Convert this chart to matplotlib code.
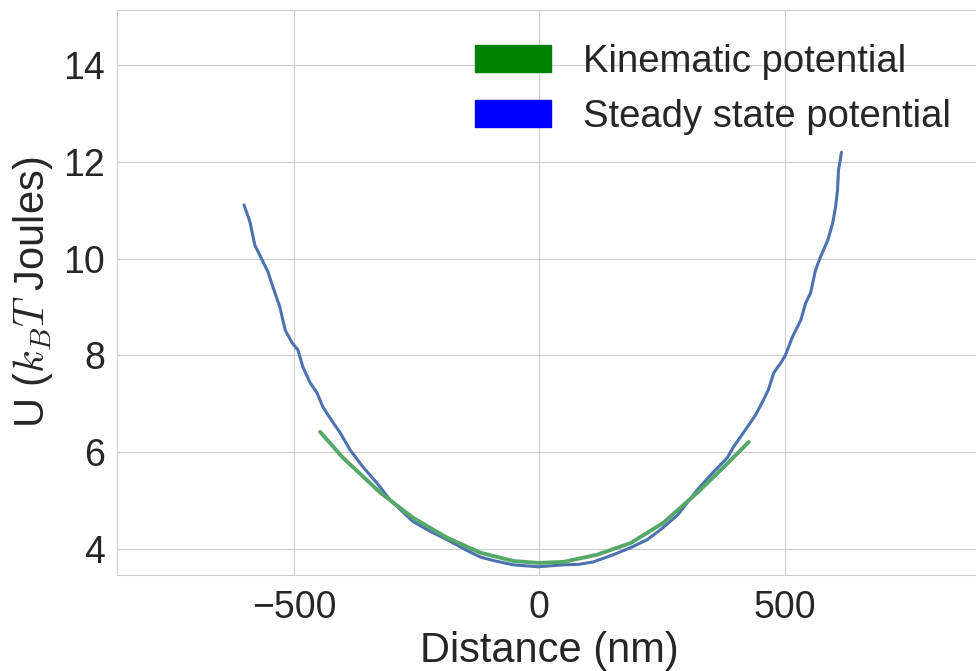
import numpy as np
import matplotlib
matplotlib.use("Agg")
import matplotlib.pyplot as plt
import matplotlib.patches as mpatches
import seaborn as sns

# steady state potential
steady_x = [-602, -590, -580, -565, -553, -543, -529, -518, -504, -492, -482, -467,
            -453, -441, -427, -406, -386, -360, -331, -304, -257, -220, -188, -150,
            -120, -90, -53, -2, 49, 80, 110, 151, 185, 220, 250, 282, 322, 355, 383,
            396, 416, 441, 455, 467, 478, 492, 502, 516, 533, 543, 553, 563, 573,
            588, 598, 604, 608, 610, 616]
steady_u = [11.11, 10.76, 10.28, 9.97, 9.72, 9.41, 9.00, 8.52, 8.26, 8.11, 7.76, 7.43,
            7.22, 6.93, 6.71, 6.40, 6.05, 5.70, 5.36, 5.01, 4.56, 4.35, 4.19, 3.98,
            3.83, 3.75, 3.67, 3.63, 3.67, 3.68, 3.73, 3.88, 4.02, 4.19, 4.42, 4.70,
            5.22, 5.59, 5.88, 6.11, 6.40, 6.77, 7.04, 7.29, 7.64, 7.84, 8.01, 8.38,
            8.73, 9.08, 9.29, 9.76, 10.03, 10.38, 10.73, 11.07, 11.42, 11.83, 12.20]

# kinematic potential
kin_x = [-447, -400, -324, -257, -188, -120, -53, -2, 49, 118, 186, 253, 322, 376, 427]
kin_u = [6.42, 5.88, 5.16, 4.64, 4.23, 3.92, 3.75, 3.71, 3.73, 3.88, 4.12, 4.54, 5.16, 5.69, 6.21]

sns.set_style("whitegrid")
plt.rcParams['font.family'] = ['Liberation Sans', 'DejaVu Sans']
plt.rcParams['mathtext.fontset'] = 'cm'

fig = plt.figure(figsize=(9.76, 6.71), dpi=100)
ax = fig.add_axes([117 / 976, 1 - 575 / 671, 0.885, 565 / 671])

ax.plot(steady_x, steady_u, color="#4c72b0", lw=2.2)
ax.plot(kin_x, kin_u, color="#55a868", lw=2.8)

ax.set_xlim(-861, 900)
ax.set_ylim(3.46, 15.14)
ax.set_xticks([-500, 0, 500])
ax.set_yticks([4, 6, 8, 10, 12, 14])
ax.tick_params(labelsize=27, colors=".15")
ax.tick_params(axis="x", pad=7)
ax.tick_params(axis="y", pad=5)
ax.set_xlabel("Distance (nm)", fontsize=30, color=".15", labelpad=4)
ax.set_ylabel("U ($k_BT$ Joules)", fontsize=30, color=".15", labelpad=6)

handles = [mpatches.Patch(color="green", label="Kinematic potential"),
           mpatches.Patch(color="blue", label="Steady state potential")]
fig.legend(handles=handles, loc="upper left", bbox_to_anchor=(475 / 976, 1 - 44 / 671),
           frameon=False, fontsize=27.5, handlelength=2.0, handleheight=0.72,
           handletextpad=0.82, labelspacing=0.5, borderpad=0, borderaxespad=0)

fig.savefig("out.png", dpi=100)
